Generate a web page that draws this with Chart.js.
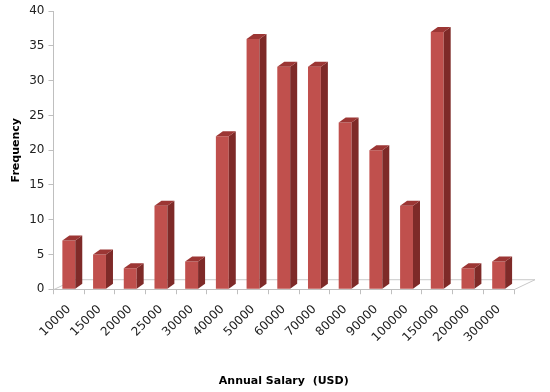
<!DOCTYPE html>
<html><head><meta charset="utf-8">
<script src="https://cdn.jsdelivr.net/npm/chart.js@4/dist/chart.umd.min.js"></script>
<style>html,body{margin:0;padding:0;background:#fff}#wrap{width:550px;height:392px}</style>
</head><body><div id="wrap"><canvas id="c" width="550" height="392"></canvas></div>
<script>
const categories = ["10000","15000","20000","25000","30000","40000","50000","60000","70000","80000","90000","100000","150000","200000","300000"];
const frequency = [7, 5, 3, 12, 4, 22, 36, 32, 32, 24, 20, 12, 37, 3, 4];
const yTicks = {min: 0, max: 40, step: 5};

const DX = 7, DY = -5;
const bar3d = {
  id: 'bar3d',
  beforeDatasetsDraw(chart) {
    const {ctx, chartArea: a} = chart;
    const bx = 21, by = -10;
    ctx.save();
    ctx.strokeStyle = '#C8C8C8';
    ctx.lineWidth = 1;
    ctx.beginPath();
    ctx.moveTo(a.left, a.bottom + 0.5);
    ctx.lineTo(a.left + bx, a.bottom + by + 0.5);
    ctx.lineTo(a.right + bx, a.bottom + by + 0.5);
    ctx.lineTo(a.right, a.bottom + 0.5);
    ctx.stroke();
    ctx.restore();
  },
  afterDatasetsDraw(chart) {
    const {ctx} = chart;
    const meta = chart.getDatasetMeta(0);
    ctx.save();
    meta.data.forEach(el => {
      const {x, y, base, width} = el.getProps(['x','y','base','width'], true);
      const l = x - width / 2, r = x + width / 2;
      ctx.fillStyle = '#7E2A28';
      ctx.beginPath();
      ctx.moveTo(r, y); ctx.lineTo(r + DX, y + DY); ctx.lineTo(r + DX, base + DY); ctx.lineTo(r, base);
      ctx.closePath(); ctx.fill();
      ctx.fillStyle = '#9C3634';
      ctx.beginPath();
      ctx.moveTo(l, y); ctx.lineTo(l + DX, y + DY); ctx.lineTo(r + DX, y + DY); ctx.lineTo(r, y);
      ctx.closePath(); ctx.fill();
    });
    ctx.restore();
  }
};

new Chart(document.getElementById('c'), {
  type: 'bar',
  data: {
    labels: categories,
    datasets: [{
      label: 'Frequency',
      data: frequency,
      backgroundColor: '#C0504D',
      borderWidth: 0,
      barPercentage: 0.42,
      categoryPercentage: 1.0
    }]
  },
  options: {
    responsive: false,
    animation: false,
    layout: {padding: {top: 1, right: 36, left: 10, bottom: 4}},
    plugins: {legend: {display: false}, tooltip: {enabled: false}},
    scales: {
      x: {
        grid: {offset: true, drawOnChartArea: false, tickLength: 5, color: '#BFBFBF'},
        border: {color: '#BFBFBF'},
        ticks: {minRotation: 45, maxRotation: 45, color: '#222', font: {family: 'DejaVu Sans', size: 12}, padding: 8},
        title: {display: true, text: 'Annual Salary  (USD)', color: '#000', font: {family: 'DejaVu Sans', size: 11, weight: 'bold'}, padding: {top: 22, bottom: 0}}
      },
      y: {
        min: yTicks.min, max: yTicks.max,
        ticks: {stepSize: yTicks.step, color: '#222', font: {family: 'DejaVu Sans', size: 12}, padding: 4},
        grid: {drawOnChartArea: false, tickLength: 5, color: '#BFBFBF'},
        border: {color: '#BFBFBF'},
        title: {display: true, text: 'Frequency', color: '#000', font: {family: 'DejaVu Sans', size: 11, weight: 'bold'}, padding: {top: 0, bottom: 2}}
      }
    }
  },
  plugins: [bar3d]
});
</script></body></html>
